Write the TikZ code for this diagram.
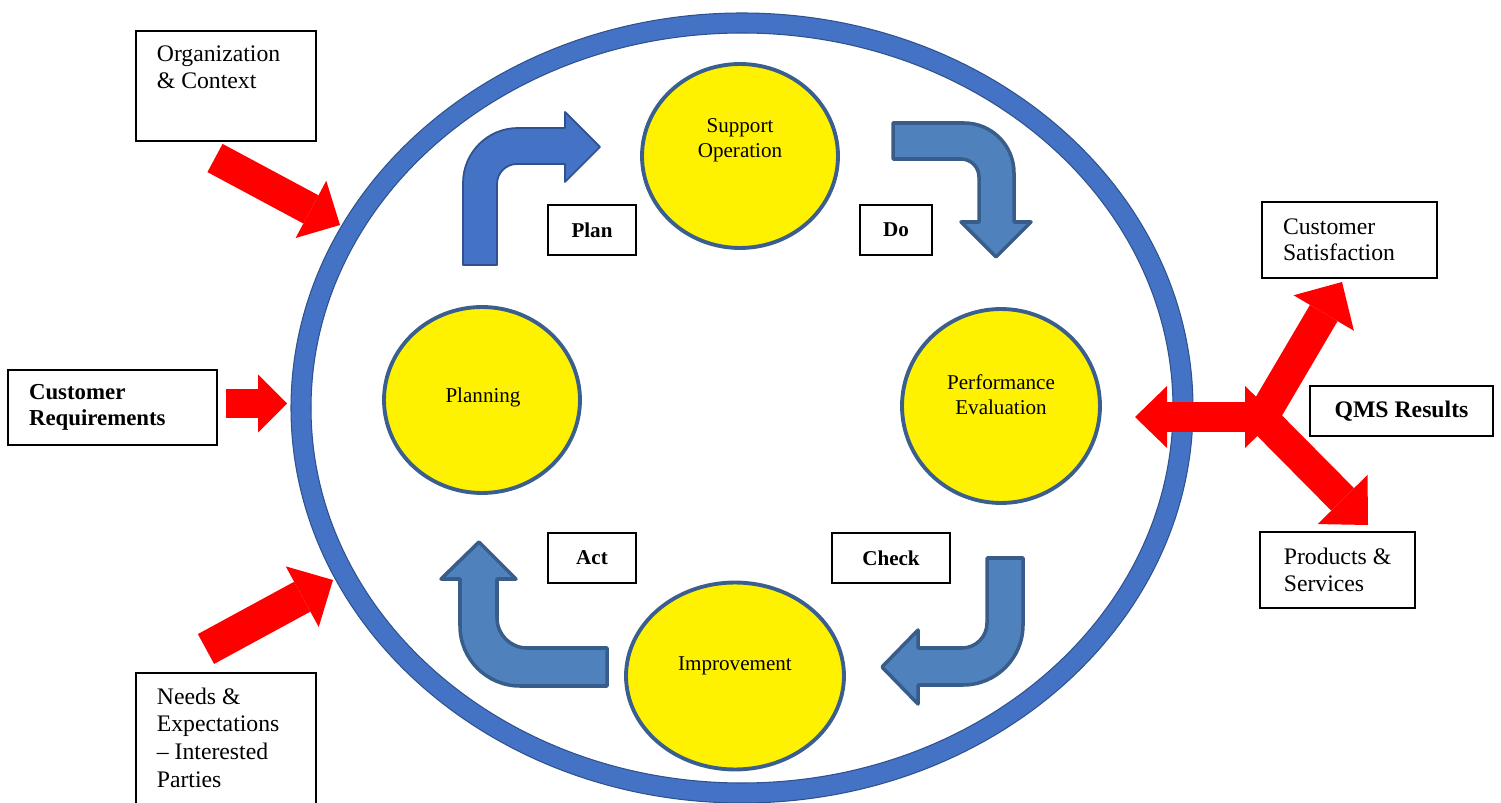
\documentclass[tikz,border=0pt]{standalone}
\usepackage{fontspec}
\setmainfont{Liberation Serif}
\usetikzlibrary{shapes.geometric, arrows.meta}

\definecolor{ringblue}{HTML}{4472C4}
\definecolor{ringedge}{HTML}{2F528F}
\definecolor{bendblue}{HTML}{4F81BD}
\definecolor{bendedge}{HTML}{385D8A}
\definecolor{stageedge}{HTML}{3A5F8E}

\begin{document}
\begin{tikzpicture}[x=0.02cm, y=-0.02cm,
    stage/.style={ellipse, draw=stageedge, line width=2.2pt, fill=yellow, inner sep=0pt},
    stagetext/.style={align=center, font=\fontsize{12}{14.2}\selectfont},
    box/.style={draw, line width=1pt, inner sep=0pt, fill=white},
    tag/.style={box, minimum height=1cm, font=\fontsize{12}{14}\selectfont\bfseries},
    bentarrow/.style={fill=bendblue, draw=bendedge, line width=2pt, line join=round},
    feed/.style={red, line width=#1}]
    \useasboundingbox (0,0) rectangle (1501,803);

    % outer ring
    \filldraw[fill=ringblue, draw=ringedge, line width=0.6pt, even odd rule]
        (742,408) ellipse [x radius=451, y radius=395]
        (742,408) ellipse [x radius=431, y radius=375];

    % the four stages
    \node[stage, minimum width=3.92cm, minimum height=3.68cm] (support) at (740,156) {};
    \node[stage, minimum width=3.92cm, minimum height=3.72cm] (planning) at (482,400) {};
    \node[stage, minimum width=3.96cm, minimum height=3.88cm] (perf) at (1001,406) {};
    \node[stage, minimum width=4.36cm, minimum height=3.74cm] (improve) at (735,676) {};

    \node[stagetext] (supporttxt) at (740,140) {Support\\Operation};
    \node[stagetext] (planningtxt) at (483,397) {Planning};
    \node[stagetext] (perftxt) at (1001,395) {Performance\\Evaluation};
    \node[stagetext] (improvetxt) at (735,666) {Improvement};

    % bent arrows round the cycle
    \filldraw[fill=ringblue, draw=ringedge, line width=1pt, line join=round]
        (463,265) -- (463,183) arc[start angle=180, end angle=270, radius=55]
        -- (565,128) -- (565,112) -- (600,147) -- (565,182) -- (565,164)
        -- (517,164) arc[start angle=270, end angle=180, radius=20] -- (497,265) -- cycle;
    \filldraw[bentarrow]
        (893,123) -- (964,123) arc[start angle=270, end angle=360, radius=50]
        -- (1014,222) -- (1031,222) -- (996,257) -- (961,222) -- (979,222)
        -- (979,177) arc[start angle=0, end angle=-90, radius=18] -- (893,159) -- cycle;
    \filldraw[bentarrow]
        (987,558) -- (1023,558) -- (1023,625) arc[start angle=0, end angle=90, radius=60]
        -- (918,685) -- (918,704) -- (882,667) -- (918,630) -- (918,648)
        -- (962,648) arc[start angle=90, end angle=0, radius=25] -- cycle;
    \filldraw[bentarrow]
        (607,648) -- (607,686) -- (520,686) arc[start angle=90, end angle=180, radius=60]
        -- (460,579) -- (441,579) -- (479,542) -- (516,579) -- (497,579)
        -- (497,618) arc[start angle=180, end angle=90, radius=30] -- cycle;

    \node[tag, minimum width=1.76cm] (plan) at (592,230) {Plan};
    \node[tag, minimum width=1.44cm] (do) at (896,230) {Do};
    \node[tag, minimum width=1.76cm] (act) at (592,558) {Act};
    \node[tag, minimum width=2.36cm] (check) at (891,558) {Check};

    % inputs
    \node[box, anchor=north west, inner xsep=0.42cm, inner ysep=0.3cm,
        font=\fontsize{13.5}{15.3}\selectfont] (org) at (135,30)
        {\parbox[c][1.6cm][t]{2.76cm}{\raggedright Organization\\\& Context}};
    \node[box, minimum width=4.18cm, minimum height=1.5cm, text width=3.34cm, align=left,
        font=\fontsize{13}{14.7}\selectfont\bfseries] (custreq) at (112.5,407.5)
        {Customer\\Requirements};
    \node[box, anchor=north west, inner xsep=0.42cm, inner ysep=0.3cm,
        font=\fontsize{13.5}{15.7}\selectfont] (needs) at (135,672)
        {\parbox[c][2.26cm][t]{2.76cm}{\raggedright Needs \&\\Expectations\\-- Interested\\Parties}};

    % outputs
    \node[box, minimum width=3.5cm, minimum height=1.52cm, text width=2.66cm, align=left,
        font=\fontsize{13.5}{14.7}\selectfont] (satis) at (1349.5,240)
        {Customer\\Satisfaction};
    \node[box, minimum width=3.66cm, minimum height=1cm,
        font=\fontsize{13.5}{15}\selectfont\bfseries] (qms) at (1401.5,411) {QMS Results};
    \node[box, minimum width=3.1cm, minimum height=1.52cm, align=left,
        font=\fontsize{13.5}{15.5}\selectfont] (prod) at (1337.5,570)
        {Products \&\\Services};

    \coordinate (orgtail) at (215,158);
    \coordinate (orgtip) at (340,225);
    \coordinate (reqtail) at (226,403.5);
    \coordinate (reqtip) at (287,403.5);
    \coordinate (needstail) at (206,649);
    \coordinate (needstip) at (333,580);
    \coordinate (qmsin) at (1135,417);
    \coordinate (qmsjoint) at (1277,417);
    \coordinate (qmsfork) at (1262,418);
    \coordinate (satistip) at (1342,282);
    \coordinate (prodtip) at (1368,525);

    \draw[feed=0.64cm, -{Triangle[length=0.66cm, width=1.3cm, line width=0pt]}] (orgtail) -- (orgtip);
    \draw[feed=0.58cm, -{Triangle[length=0.58cm, width=1.16cm, line width=0pt]}] (reqtail) -- (reqtip);
    \draw[feed=0.68cm, -{Triangle[length=0.7cm, width=1.38cm, line width=0pt]}] (needstail) -- (needstip);
    \draw[feed=0.6cm, {Triangle[length=0.64cm, width=1.24cm, line width=0pt]}-{Triangle[length=0.64cm, width=1.24cm, line width=0pt]}] (qmsin) -- (qmsjoint);
    \draw[feed=0.64cm, -{Triangle[length=0.72cm, width=1.4cm, line width=0pt]}] (qmsfork) -- (satistip);
    \draw[feed=0.64cm, -{Triangle[length=0.72cm, width=1.4cm, line width=0pt]}] (qmsfork) -- (prodtip);
\end{tikzpicture}
\end{document}
